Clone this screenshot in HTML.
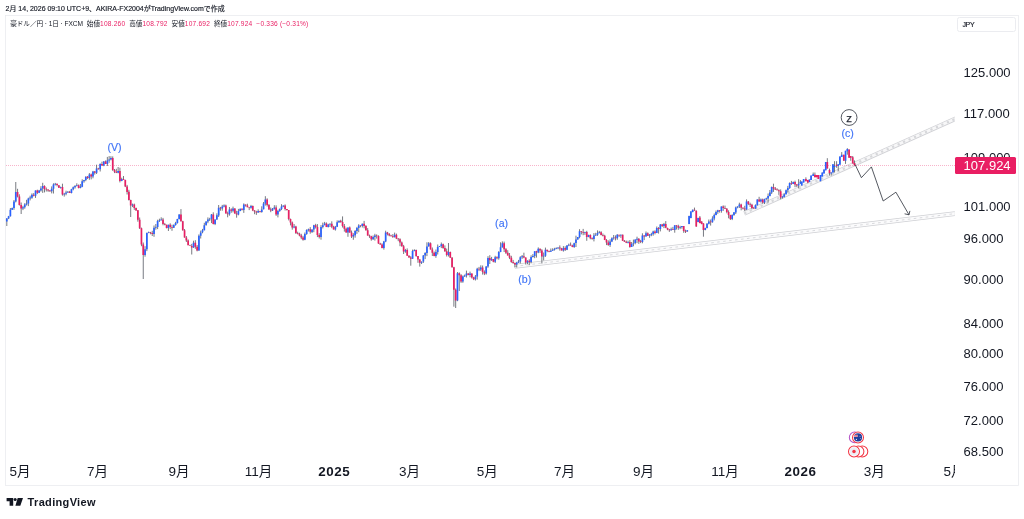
<!DOCTYPE html>
<html lang="ja">
<head>
<meta charset="utf-8">
<title>豪ドル／円 チャート</title>
<style>
html,body{margin:0;padding:0;background:#fff;}
body{width:1024px;height:519px;position:relative;overflow:hidden;font-family:"Liberation Sans","Noto Sans CJK JP",sans-serif;color:#131722;}
#chart{position:absolute;left:0;top:0;width:1024px;height:519px;}
.t{position:absolute;white-space:nowrap;line-height:1;}
#hdr{left:5.6px;top:5.6px;font-size:6.97px;color:#131722;-webkit-text-stroke:0.15px #131722;}
#lg{left:10.3px;top:21.4px;font-size:6.6px;color:#131722;letter-spacing:-0.06px;}
#lg b{font-weight:normal;color:#e91e63;letter-spacing:0.2px;}
#lg span{margin-left:3.95px;letter-spacing:0;}
.pl{left:963.6px;font-size:13px;color:#131722;}
.tl{font-size:13.5px;color:#131722;top:464.8px;transform:translateX(-50%);}
.tl.b{font-weight:bold;letter-spacing:0.55px;font-size:13.4px;}
#jpy{left:957px;top:17.3px;width:59.2px;height:14.6px;border:0.8px solid #ebecf0;border-radius:2.5px;font-size:7px;letter-spacing:-0.3px;box-sizing:border-box;-webkit-text-stroke:0.15px #131722;}
#jpy span{position:absolute;left:4.4px;top:3.2px;}
#cur{left:955px;top:156.9px;width:60.9px;height:17px;background:#e91e63;color:#fff;font-size:13px;border-radius:1.5px;}
#cur span{position:absolute;left:8.6px;top:2.1px;}
#tv{left:27.6px;top:496.6px;font-size:11px;font-weight:bold;color:#131722;letter-spacing:0.33px;}
.wl{font-size:10.6px;color:#4074f7;-webkit-text-stroke:0.15px #4074f7;transform:translate(-50%,-50%);}
</style>
</head>
<body>
<svg id="chart" viewBox="0 0 1024 519" width="1024" height="519">
<rect x="5.5" y="15.4" width="1012.9" height="470" fill="none" stroke="#eaebef" stroke-width="0.8"/>
<!-- trend lines -->
<defs><clipPath id="pane"><rect x="5.5" y="15.5" width="949.3" height="446"/></clipPath></defs>
<g fill="none" stroke-linecap="butt" clip-path="url(#pane)">
<line x1="514.6" y1="266.4" x2="965" y2="212.45" stroke="#cfd0d4" stroke-width="4.8"/>
<line x1="514.6" y1="266.4" x2="965" y2="212.45" stroke="#fbfbfc" stroke-width="3.4"/>
<line x1="514.6" y1="266.4" x2="965" y2="212.45" stroke="#cfd0d4" stroke-width="0.8" stroke-dasharray="2.6 3.4"/>
<line x1="744.3" y1="213.4" x2="965" y2="114.5" stroke="#d0d1d5" stroke-width="4.6"/>
<line x1="744.3" y1="213.4" x2="965" y2="114.5" stroke="#f7f7f8" stroke-width="3"/>
<line x1="744.3" y1="213.4" x2="965" y2="114.5" stroke="#d6d7da" stroke-width="2.2" stroke-dasharray="2.2 3.8"/>
</g>
<!-- price line -->
<line x1="6" y1="165.3" x2="956" y2="165.3" stroke="#e91e63" stroke-width="0.6" stroke-dasharray="1 1" opacity="0.7"/>
<!-- candles -->
<path d="M6.80 218.0V226.0M8.60 215.9V219.1M10.39 208.0V216.6M12.19 207.6V210.0M13.98 200.0V209.8M15.78 182.0V202.4M17.57 188.8V197.4M19.37 194.3V205.5M21.16 202.5V214.0M22.96 205.8V210.1M24.76 203.2V208.7M26.55 199.8V205.5M28.35 197.7V206.1M30.14 195.7V200.4M31.94 193.4V198.8M33.73 193.1V196.4M35.53 190.4V197.9M37.32 189.7V194.1M39.12 189.9V193.1M40.91 186.2V191.6M42.71 182.8V192.9M44.51 185.3V192.4M46.30 187.5V191.5M48.10 189.4V191.8M49.89 190.0V191.8M51.69 186.4V193.4M53.48 183.3V193.5M55.28 182.9V185.5M57.07 183.7V186.4M58.87 185.2V188.0M60.66 186.6V188.6M62.46 183.7V195.6M64.26 192.9V196.6M66.05 190.7V195.3M67.85 191.1V192.9M69.64 190.9V193.0M71.44 188.8V193.4M73.23 186.5V190.3M75.03 185.1V188.6M76.82 183.3V186.4M78.62 184.5V188.4M80.42 184.0V188.3M82.21 179.3V187.2M84.01 179.9V182.7M85.80 176.3V181.2M87.60 176.0V179.0M89.39 173.1V179.8M91.19 173.6V179.4M92.98 170.9V178.3M94.78 171.0V174.6M96.58 164.7V174.0M98.37 167.8V169.6M100.17 163.4V171.5M101.96 161.7V165.8M103.76 161.1V166.2M105.55 160.5V164.0M107.35 156.9V166.0M109.14 156.1V162.8M110.94 156.2V160.4M112.73 156.4V170.9M114.53 169.0V173.1M116.33 168.8V173.1M118.12 167.0V173.3M119.92 167.7V182.4M121.71 177.7V181.2M123.51 176.0V180.0M125.30 179.7V187.1M127.10 184.9V194.5M128.89 189.8V200.5M130.69 199.7V217.0M132.49 203.6V207.1M134.28 203.6V209.9M136.08 207.6V210.7M137.87 210.0V221.7M139.67 217.5V229.0M141.46 227.6V246.2M143.26 242.5V279.0M145.05 246.2V256.7M146.85 232.5V251.1M148.64 231.6V233.2M150.44 231.9V234.3M152.24 230.8V236.0M154.03 225.5V236.8M155.83 224.0V229.7M157.62 219.7V229.1M159.42 218.7V222.0M161.21 217.3V220.5M163.01 217.9V225.3M164.80 222.9V225.3M166.60 224.7V228.4M168.40 224.7V231.0M170.19 223.3V229.1M171.99 224.7V230.8M173.78 224.4V228.0M175.58 221.8V225.7M177.37 218.8V223.6M179.17 214.2V219.5M180.96 209.1V221.6M182.76 220.8V230.7M184.55 229.0V237.7M186.35 236.0V242.0M188.15 239.4V245.2M189.94 244.8V245.9M191.74 243.9V254.5M193.53 240.7V247.9M195.33 240.2V248.8M197.12 245.0V251.3M198.92 234.4V250.8M200.71 230.6V238.5M202.51 228.9V233.3M204.31 222.8V230.4M206.10 221.3V225.8M207.90 217.4V223.2M209.69 217.8V221.0M211.49 214.0V223.1M213.28 212.3V224.4M215.08 219.4V225.1M216.87 213.3V219.9M218.67 205.0V217.0M220.46 206.9V210.7M222.26 204.9V210.7M224.06 204.4V207.3M225.85 204.6V213.5M227.65 211.6V217.3M229.44 207.0V215.7M231.24 208.3V212.8M233.03 206.6V212.4M234.83 208.2V213.8M236.62 210.8V217.7M238.42 208.9V215.3M240.22 208.6V211.2M242.01 208.4V210.4M243.81 203.4V212.9M245.60 204.5V206.6M247.40 203.7V207.2M249.19 206.9V210.1M250.99 204.9V208.7M252.78 205.5V211.1M254.58 210.1V214.2M256.37 210.8V214.9M258.17 209.3V212.9M259.97 210.9V212.5M261.76 206.3V212.7M263.56 202.0V209.4M265.35 196.2V205.6M267.15 198.3V206.5M268.94 204.0V209.8M270.74 207.5V212.2M272.53 208.0V211.0M274.33 205.2V209.6M276.12 205.3V215.9M277.92 209.8V217.4M279.72 208.4V211.8M281.51 204.2V210.1M283.31 205.5V207.2M285.10 204.4V210.5M286.90 209.0V210.5M288.69 210.0V220.4M290.49 218.6V225.4M292.28 221.5V229.7M294.08 224.0V228.3M295.88 225.8V234.0M297.67 231.7V234.4M299.47 232.7V236.3M301.26 233.8V239.2M303.06 235.8V240.7M304.85 232.5V240.2M306.65 229.3V234.8M308.44 228.6V231.5M310.24 227.1V233.7M312.04 229.4V233.0M313.83 224.8V232.2M315.63 223.8V228.5M317.42 224.1V237.1M319.22 233.2V238.5M321.01 225.1V239.7M322.81 222.6V228.4M324.60 221.9V225.2M326.40 222.4V227.1M328.19 223.8V227.5M329.99 223.4V227.0M331.79 221.3V228.2M333.58 225.8V229.5M335.38 225.9V230.6M337.17 220.4V227.1M338.97 220.6V223.0M340.76 219.8V222.8M342.56 216.4V227.5M344.35 224.0V231.6M346.15 227.6V232.7M347.95 227.5V236.8M349.74 226.5V232.8M351.54 230.5V238.0M353.33 233.2V239.8M355.13 230.1V237.7M356.92 226.9V233.9M358.72 224.2V232.2M360.51 225.3V227.3M362.31 223.6V227.5M364.10 220.9V228.3M365.90 225.1V230.6M367.70 228.1V235.7M369.49 234.6V237.9M371.29 235.8V240.7M373.08 235.5V239.9M374.88 233.8V240.6M376.67 234.4V238.6M378.47 235.3V243.9M380.26 242.8V244.7M382.06 243.3V248.3M383.86 240.9V249.6M385.65 230.7V242.2M387.45 231.9V235.4M389.24 233.0V236.3M391.04 234.8V236.3M392.83 234.1V237.9M394.63 232.6V237.6M396.42 233.6V239.1M398.22 238.2V241.2M400.01 238.3V246.2M401.81 241.5V246.7M403.61 244.9V254.0M405.40 248.9V252.8M407.20 248.4V255.8M408.99 255.3V257.7M410.79 256.1V265.7M412.58 249.6V258.9M414.38 249.3V251.3M416.17 249.6V256.8M417.97 256.0V262.8M419.77 259.1V266.6M421.56 261.4V264.0M423.36 255.0V262.9M425.15 252.2V259.1M426.95 242.3V256.1M428.74 242.0V246.5M430.54 242.4V249.5M432.33 247.5V256.0M434.13 251.5V256.3M435.92 249.5V257.8M437.72 244.5V254.5M439.52 246.0V247.0M441.31 242.5V248.1M443.11 243.6V248.8M444.90 245.4V251.9M446.70 248.6V256.5M448.49 243.0V256.5M450.29 251.6V257.9M452.08 257.0V267.6M453.88 266.8V306.7M455.68 288.5V308.0M457.47 272.0V301.2M459.27 272.4V291.0M461.06 274.1V282.9M462.86 275.5V282.8M464.65 274.6V276.9M466.45 270.6V277.5M468.24 273.1V275.3M470.04 271.6V277.3M471.83 273.4V278.5M473.63 276.8V280.1M475.43 275.0V280.5M477.22 267.8V279.6M479.02 266.9V271.1M480.81 265.3V271.0M482.61 265.5V274.6M484.40 270.4V275.1M486.20 266.1V274.6M487.99 256.2V267.8M489.79 255.2V264.0M491.59 256.9V260.9M493.38 259.0V262.3M495.18 255.8V263.0M496.97 256.3V259.3M498.77 251.1V259.7M500.56 242.3V252.2M502.36 241.4V247.7M504.15 241.6V252.0M505.95 248.1V254.0M507.74 250.2V255.5M509.54 253.0V259.1M511.34 255.8V262.8M513.13 259.9V263.8M514.93 262.6V267.4M516.72 261.8V267.5M518.52 259.9V263.1M520.31 256.2V263.5M522.11 255.0V258.9M523.90 252.7V258.2M525.70 257.4V264.5M527.50 260.3V264.1M529.29 259.3V265.2M531.09 255.3V263.3M532.88 254.1V257.5M534.68 251.3V258.2M536.47 250.8V257.6M538.27 247.4V253.2M540.06 248.5V252.9M541.86 249.2V263.5M543.65 252.5V260.4M545.45 247.6V256.9M547.25 249.8V252.2M549.04 250.6V252.2M550.84 248.5V251.9M552.63 248.3V250.8M554.43 247.8V250.6M556.22 247.4V249.2M558.02 247.4V249.2M559.81 245.4V250.6M561.61 247.9V250.5M563.40 246.1V251.6M565.20 246.3V251.0M567.00 245.1V250.1M568.79 243.6V246.2M570.59 242.5V245.7M572.38 244.7V247.2M574.18 242.7V247.9M575.97 235.7V247.0M577.77 237.0V239.7M579.56 229.2V238.3M581.36 231.2V234.4M583.16 228.9V235.2M584.95 231.7V234.9M586.75 230.8V240.8M588.54 234.7V237.2M590.34 234.3V239.3M592.13 237.4V239.7M593.93 233.1V241.4M595.72 232.8V235.9M597.52 230.4V235.9M599.31 230.9V233.5M601.11 231.2V235.4M602.91 233.5V236.4M604.70 234.8V240.1M606.50 239.1V245.1M608.29 240.4V245.8M610.09 239.3V246.9M611.88 237.3V242.1M613.68 235.0V239.7M615.47 235.4V240.4M617.27 234.1V239.8M619.07 234.8V237.0M620.86 234.5V237.9M622.66 234.5V241.0M624.45 240.0V241.9M626.25 240.6V243.1M628.04 240.7V243.4M629.84 240.1V247.7M631.63 242.0V247.0M633.43 239.6V246.3M635.23 239.4V244.3M637.02 236.7V243.1M638.82 238.1V243.9M640.61 239.9V243.1M642.41 233.3V243.3M644.20 235.2V240.1M646.00 231.5V236.5M647.79 232.4V236.0M649.59 234.0V237.8M651.38 232.8V236.2M653.18 230.7V235.7M654.98 230.3V234.4M656.77 226.5V233.1M658.57 227.1V233.6M660.36 224.0V231.4M662.16 223.9V227.0M663.95 222.9V228.1M665.75 221.1V228.2M667.54 227.7V230.2M669.34 228.9V231.9M671.13 227.6V230.7M672.93 226.9V229.9M674.73 225.2V232.7M676.52 225.2V229.5M678.32 224.7V229.8M680.11 225.8V229.2M681.91 226.1V228.7M683.70 226.1V232.8M685.50 229.7V233.0M687.29 230.0V231.8M689.09 215.7V224.2M690.89 211.2V218.3M692.68 209.5V212.3M694.48 207.6V210.9M696.27 210.4V226.8M698.07 217.7V222.3M699.86 216.0V223.3M701.66 221.2V224.3M703.45 223.2V236.7M705.25 227.7V230.3M707.04 223.0V228.4M708.84 219.5V224.4M710.64 219.5V225.6M712.43 216.3V222.7M714.23 213.5V220.4M716.02 210.5V215.3M717.82 209.8V213.8M719.61 210.0V212.6M721.41 206.4V212.7M723.20 205.4V210.9M725.00 205.6V209.0M726.80 208.0V213.3M728.59 210.3V218.3M730.39 214.8V220.0M732.18 214.3V220.1M733.98 212.3V215.8M735.77 206.6V214.0M737.57 206.3V208.3M739.36 202.7V208.0M741.16 203.7V210.3M742.96 207.4V209.4M744.75 205.8V211.0M746.55 199.4V209.8M748.34 201.1V205.1M750.14 202.7V207.0M751.93 203.8V209.2M753.73 207.2V208.8M755.52 204.4V208.7M757.32 199.2V205.6M759.11 196.8V202.1M760.91 198.5V202.6M762.71 198.6V203.7M764.50 198.7V204.0M766.30 197.7V200.3M768.09 193.5V202.6M769.89 190.0V196.4M771.68 186.5V194.0M773.48 183.7V191.9M775.27 187.0V190.0M777.07 188.3V190.3M778.87 189.3V194.9M780.66 189.4V199.3M782.46 196.2V198.5M784.25 193.4V197.4M786.05 189.5V194.5M787.84 185.9V192.5M789.64 182.4V188.9M791.43 180.9V184.9M793.23 181.5V184.1M795.02 180.7V187.2M796.82 184.0V187.0M798.62 179.2V188.4M800.41 180.1V184.0M801.73 181.6V185.5M803.64 179.0V182.5M805.90 177.3V181.2M807.81 179.9V183.4M809.37 179.5V182.1M811.10 175.6V179.9M813.18 172.5V176.0M814.92 172.5V177.3M816.65 175.1V177.3M818.39 175.1V179.0M820.47 175.1V181.2M822.29 172.5V176.4M824.02 169.5V173.4M825.76 162.1V170.4M827.32 158.2V168.6M829.49 168.6V175.6M831.22 172.5V175.6M832.96 164.3V172.5M834.52 161.2V172.5M836.60 161.2V167.8M838.25 164.3V170.8M839.90 156.5V164.7M841.72 152.1V156.9M843.80 154.7V160.8M845.53 150.8V163.9M847.35 148.2V154.7M849.09 149.5V157.8M850.74 156.0V160.8M852.73 156.0V163.4M854.47 160.4V165.6" stroke="#4a4d57" stroke-width="0.75" fill="none"/>
<path d="M5.95 218.4h1.7v3.0h-1.7zM7.75 216.2h1.7v2.2h-1.7zM9.54 209.8h1.7v6.4h-1.7zM11.34 208.1h1.7v1.7h-1.7zM13.13 201.5h1.7v6.6h-1.7zM14.93 192.0h1.7v9.5h-1.7zM22.11 207.3h1.7v1.3h-1.7zM23.91 204.6h1.7v2.7h-1.7zM25.70 203.5h1.7v1.1h-1.7zM27.50 198.4h1.7v5.1h-1.7zM29.29 197.6h1.7v0.8h-1.7zM31.09 194.8h1.7v2.9h-1.7zM34.68 190.6h1.7v5.1h-1.7zM38.27 190.6h1.7v2.2h-1.7zM40.06 188.6h1.7v1.9h-1.7zM41.86 186.0h1.7v2.6h-1.7zM50.84 188.7h1.7v2.6h-1.7zM52.63 184.6h1.7v4.1h-1.7zM54.43 183.8h1.7v0.8h-1.7zM59.81 187.0h1.7v0.8h-1.7zM63.41 193.8h1.7v0.8h-1.7zM65.20 192.6h1.7v1.2h-1.7zM67.00 191.8h1.7v0.8h-1.7zM70.59 189.3h1.7v3.7h-1.7zM72.38 187.3h1.7v2.0h-1.7zM74.18 186.0h1.7v1.3h-1.7zM75.97 185.2h1.7v0.8h-1.7zM79.57 186.6h1.7v1.4h-1.7zM81.36 181.3h1.7v5.4h-1.7zM83.16 179.9h1.7v1.3h-1.7zM84.95 176.7h1.7v3.2h-1.7zM88.54 174.6h1.7v3.4h-1.7zM92.13 171.5h1.7v4.9h-1.7zM95.73 168.5h1.7v4.2h-1.7zM99.32 164.1h1.7v5.1h-1.7zM102.91 161.6h1.7v3.9h-1.7zM106.50 160.4h1.7v3.5h-1.7zM108.29 159.4h1.7v1.0h-1.7zM110.09 158.0h1.7v1.4h-1.7zM117.27 170.9h1.7v1.8h-1.7zM120.86 178.9h1.7v2.1h-1.7zM131.64 204.5h1.7v0.9h-1.7zM144.20 249.3h1.7v5.7h-1.7zM146.00 233.0h1.7v16.3h-1.7zM147.79 232.2h1.7v0.8h-1.7zM153.18 227.7h1.7v6.3h-1.7zM154.98 226.9h1.7v0.8h-1.7zM156.77 221.0h1.7v5.9h-1.7zM158.57 220.2h1.7v0.8h-1.7zM160.36 219.4h1.7v0.8h-1.7zM167.55 224.8h1.7v3.1h-1.7zM172.93 224.9h1.7v2.8h-1.7zM174.73 222.9h1.7v2.0h-1.7zM176.52 219.0h1.7v3.9h-1.7zM178.32 214.6h1.7v4.4h-1.7zM192.68 242.7h1.7v4.9h-1.7zM198.07 235.8h1.7v14.7h-1.7zM199.86 232.4h1.7v3.4h-1.7zM201.66 230.2h1.7v2.1h-1.7zM203.46 225.2h1.7v5.1h-1.7zM205.25 221.6h1.7v3.5h-1.7zM207.05 219.5h1.7v2.1h-1.7zM208.84 218.8h1.7v0.7h-1.7zM210.64 214.4h1.7v4.4h-1.7zM214.23 219.6h1.7v4.4h-1.7zM216.02 215.3h1.7v4.3h-1.7zM217.82 207.7h1.7v7.7h-1.7zM221.41 206.4h1.7v2.1h-1.7zM223.21 205.6h1.7v0.8h-1.7zM228.59 209.4h1.7v4.8h-1.7zM232.18 208.6h1.7v2.2h-1.7zM237.57 211.1h1.7v3.3h-1.7zM239.37 208.7h1.7v2.4h-1.7zM242.96 204.6h1.7v5.3h-1.7zM250.14 206.1h1.7v1.7h-1.7zM257.32 211.1h1.7v1.4h-1.7zM260.91 209.4h1.7v2.5h-1.7zM262.71 203.6h1.7v5.7h-1.7zM264.50 199.6h1.7v4.0h-1.7zM271.68 208.8h1.7v1.6h-1.7zM273.48 207.6h1.7v1.2h-1.7zM277.07 211.1h1.7v3.3h-1.7zM278.87 208.9h1.7v2.2h-1.7zM280.66 206.6h1.7v2.3h-1.7zM282.46 205.5h1.7v1.1h-1.7zM293.23 226.6h1.7v0.8h-1.7zM304.00 234.0h1.7v5.8h-1.7zM305.80 230.0h1.7v4.0h-1.7zM307.59 229.2h1.7v0.8h-1.7zM311.19 229.4h1.7v2.5h-1.7zM312.98 225.2h1.7v4.2h-1.7zM320.16 227.1h1.7v9.8h-1.7zM321.96 225.2h1.7v1.9h-1.7zM323.75 223.6h1.7v1.6h-1.7zM327.34 224.6h1.7v2.3h-1.7zM329.14 223.8h1.7v0.8h-1.7zM334.53 226.8h1.7v2.7h-1.7zM336.32 222.2h1.7v4.6h-1.7zM338.12 220.7h1.7v1.5h-1.7zM347.10 227.6h1.7v4.9h-1.7zM352.48 235.1h1.7v1.3h-1.7zM354.28 231.0h1.7v4.2h-1.7zM356.07 227.9h1.7v3.1h-1.7zM357.87 225.4h1.7v2.5h-1.7zM361.46 223.7h1.7v2.4h-1.7zM372.23 236.9h1.7v2.4h-1.7zM374.03 235.4h1.7v1.5h-1.7zM383.00 241.6h1.7v6.4h-1.7zM384.80 232.5h1.7v9.1h-1.7zM393.78 234.8h1.7v2.1h-1.7zM404.55 250.1h1.7v1.3h-1.7zM411.73 250.9h1.7v7.9h-1.7zM413.53 250.0h1.7v0.9h-1.7zM420.71 261.7h1.7v1.0h-1.7zM422.51 255.4h1.7v6.2h-1.7zM424.30 252.9h1.7v2.5h-1.7zM426.10 246.5h1.7v6.4h-1.7zM427.89 243.2h1.7v3.3h-1.7zM435.07 252.1h1.7v3.8h-1.7zM436.87 246.9h1.7v5.2h-1.7zM438.67 246.1h1.7v0.8h-1.7zM440.46 244.2h1.7v1.9h-1.7zM447.64 252.0h1.7v2.9h-1.7zM456.62 273.2h1.7v27.3h-1.7zM462.01 276.6h1.7v4.9h-1.7zM463.80 275.5h1.7v1.0h-1.7zM465.60 273.5h1.7v2.0h-1.7zM469.19 273.5h1.7v1.4h-1.7zM474.58 276.6h1.7v2.7h-1.7zM476.37 268.8h1.7v7.8h-1.7zM479.96 267.6h1.7v2.0h-1.7zM485.35 266.6h1.7v6.9h-1.7zM487.14 257.9h1.7v8.7h-1.7zM490.74 259.0h1.7v1.3h-1.7zM494.33 257.2h1.7v4.6h-1.7zM497.92 252.1h1.7v6.1h-1.7zM499.71 247.3h1.7v4.8h-1.7zM501.51 243.2h1.7v4.1h-1.7zM515.87 262.5h1.7v2.0h-1.7zM517.67 261.4h1.7v1.1h-1.7zM519.46 257.3h1.7v4.1h-1.7zM521.26 256.3h1.7v1.0h-1.7zM526.64 260.8h1.7v1.7h-1.7zM530.24 256.9h1.7v5.1h-1.7zM532.03 256.1h1.7v0.8h-1.7zM533.83 251.3h1.7v4.8h-1.7zM537.42 248.8h1.7v3.7h-1.7zM542.80 255.7h1.7v0.9h-1.7zM544.60 249.8h1.7v5.9h-1.7zM549.99 250.8h1.7v1.0h-1.7zM551.78 249.9h1.7v0.9h-1.7zM553.58 249.1h1.7v0.8h-1.7zM555.37 248.3h1.7v0.8h-1.7zM557.17 247.5h1.7v0.8h-1.7zM562.55 247.9h1.7v2.5h-1.7zM566.15 245.5h1.7v4.3h-1.7zM567.94 244.7h1.7v0.8h-1.7zM573.33 243.2h1.7v3.7h-1.7zM575.12 239.5h1.7v3.6h-1.7zM576.92 237.1h1.7v2.5h-1.7zM578.71 231.3h1.7v5.7h-1.7zM584.10 231.9h1.7v0.8h-1.7zM587.69 234.9h1.7v2.1h-1.7zM593.08 235.5h1.7v3.6h-1.7zM594.87 234.8h1.7v0.7h-1.7zM596.67 232.9h1.7v1.9h-1.7zM598.46 232.2h1.7v0.7h-1.7zM609.24 241.4h1.7v3.5h-1.7zM611.03 238.2h1.7v3.2h-1.7zM612.83 237.4h1.7v0.8h-1.7zM616.42 234.8h1.7v3.4h-1.7zM620.01 234.8h1.7v0.8h-1.7zM627.19 242.0h1.7v0.8h-1.7zM630.78 244.0h1.7v2.9h-1.7zM632.58 243.2h1.7v0.8h-1.7zM634.38 239.6h1.7v3.5h-1.7zM636.17 238.8h1.7v0.9h-1.7zM641.56 235.5h1.7v6.6h-1.7zM645.15 233.2h1.7v3.3h-1.7zM648.74 234.9h1.7v0.8h-1.7zM650.53 234.1h1.7v0.8h-1.7zM652.33 231.6h1.7v2.5h-1.7zM655.92 227.9h1.7v5.2h-1.7zM659.51 224.4h1.7v4.7h-1.7zM663.10 224.1h1.7v1.9h-1.7zM670.28 229.3h1.7v1.0h-1.7zM673.88 225.3h1.7v4.6h-1.7zM679.26 226.9h1.7v0.8h-1.7zM681.06 226.1h1.7v0.8h-1.7zM686.44 230.3h1.7v1.2h-1.7zM688.24 216.0h1.7v7.9h-1.7zM690.04 211.5h1.7v6.5h-1.7zM691.83 209.8h1.7v2.2h-1.7zM697.22 218.0h1.7v4.0h-1.7zM704.40 228.0h1.7v2.0h-1.7zM706.19 223.7h1.7v4.3h-1.7zM707.99 221.5h1.7v2.2h-1.7zM711.58 218.5h1.7v3.8h-1.7zM713.38 215.0h1.7v3.5h-1.7zM715.17 211.9h1.7v3.1h-1.7zM716.97 210.2h1.7v1.7h-1.7zM720.56 206.4h1.7v4.5h-1.7zM731.33 215.0h1.7v4.1h-1.7zM733.13 212.3h1.7v2.7h-1.7zM734.92 207.4h1.7v5.0h-1.7zM736.72 206.6h1.7v0.8h-1.7zM738.51 204.5h1.7v2.1h-1.7zM745.70 201.5h1.7v7.9h-1.7zM754.67 204.9h1.7v3.7h-1.7zM756.47 199.5h1.7v5.4h-1.7zM760.06 199.6h1.7v1.9h-1.7zM763.65 199.1h1.7v3.4h-1.7zM765.45 198.3h1.7v0.8h-1.7zM767.24 196.0h1.7v2.4h-1.7zM769.04 192.5h1.7v3.5h-1.7zM770.83 186.9h1.7v5.6h-1.7zM781.61 196.6h1.7v0.8h-1.7zM783.40 194.2h1.7v2.5h-1.7zM785.20 190.2h1.7v4.0h-1.7zM786.99 188.1h1.7v2.1h-1.7zM788.79 183.1h1.7v4.9h-1.7zM792.38 182.0h1.7v1.9h-1.7zM797.77 183.7h1.7v1.7h-1.7zM799.56 181.8h1.7v1.8h-1.7zM800.88 181.6h1.7v3.9h-1.7zM802.79 179.0h1.7v3.5h-1.7zM808.52 179.5h1.7v2.6h-1.7zM810.25 175.6h1.7v4.3h-1.7zM812.33 174.3h1.7v1.7h-1.7zM819.62 175.1h1.7v6.1h-1.7zM821.44 172.5h1.7v3.9h-1.7zM823.17 169.5h1.7v3.9h-1.7zM824.91 162.1h1.7v8.2h-1.7zM830.37 172.5h1.7v0.9h-1.7zM832.11 164.3h1.7v8.2h-1.7zM833.67 166.0h1.7v0.9h-1.7zM837.40 164.3h1.7v1.7h-1.7zM839.05 156.5h1.7v8.2h-1.7zM840.87 154.7h1.7v2.2h-1.7zM844.68 150.8h1.7v10.0h-1.7zM846.50 149.1h1.7v2.2h-1.7z" fill="#2962ff"/>
<path d="M16.72 192.0h1.7v4.5h-1.7zM18.52 196.5h1.7v8.5h-1.7zM20.31 204.9h1.7v3.7h-1.7zM32.88 194.8h1.7v0.9h-1.7zM36.47 190.6h1.7v2.2h-1.7zM43.66 186.0h1.7v2.9h-1.7zM45.45 188.9h1.7v0.7h-1.7zM47.25 189.6h1.7v0.8h-1.7zM49.04 190.4h1.7v0.8h-1.7zM56.22 183.8h1.7v1.3h-1.7zM58.02 185.2h1.7v2.6h-1.7zM61.61 187.0h1.7v7.6h-1.7zM68.79 191.8h1.7v1.2h-1.7zM77.77 185.2h1.7v2.8h-1.7zM86.75 176.7h1.7v1.3h-1.7zM90.34 174.6h1.7v1.8h-1.7zM93.93 171.5h1.7v1.2h-1.7zM97.52 168.5h1.7v0.7h-1.7zM101.11 164.1h1.7v1.4h-1.7zM104.70 161.6h1.7v2.3h-1.7zM111.88 158.0h1.7v11.9h-1.7zM113.68 169.9h1.7v1.9h-1.7zM115.48 171.8h1.7v0.9h-1.7zM119.07 170.9h1.7v10.1h-1.7zM122.66 178.9h1.7v1.1h-1.7zM124.45 180.0h1.7v6.6h-1.7zM126.25 186.6h1.7v5.3h-1.7zM128.04 191.8h1.7v8.2h-1.7zM129.84 200.1h1.7v5.3h-1.7zM133.43 204.5h1.7v3.5h-1.7zM135.23 208.1h1.7v2.3h-1.7zM137.02 210.3h1.7v9.4h-1.7zM138.82 219.7h1.7v8.5h-1.7zM140.61 228.2h1.7v16.2h-1.7zM142.41 244.4h1.7v10.6h-1.7zM149.59 232.2h1.7v0.7h-1.7zM151.39 232.9h1.7v1.1h-1.7zM162.16 219.4h1.7v4.5h-1.7zM163.95 223.9h1.7v0.8h-1.7zM165.75 224.7h1.7v3.2h-1.7zM169.34 224.8h1.7v2.2h-1.7zM171.14 227.0h1.7v0.7h-1.7zM180.11 214.6h1.7v6.6h-1.7zM181.91 221.2h1.7v9.1h-1.7zM183.70 230.3h1.7v7.1h-1.7zM185.50 237.5h1.7v3.0h-1.7zM187.30 240.5h1.7v4.8h-1.7zM189.09 245.2h1.7v0.6h-1.7zM190.89 245.9h1.7v1.7h-1.7zM194.48 242.7h1.7v4.1h-1.7zM196.27 246.8h1.7v3.7h-1.7zM212.43 214.4h1.7v9.6h-1.7zM219.61 207.7h1.7v0.8h-1.7zM225.00 205.6h1.7v7.8h-1.7zM226.80 213.4h1.7v0.8h-1.7zM230.39 209.4h1.7v1.4h-1.7zM233.98 208.6h1.7v5.0h-1.7zM235.77 213.6h1.7v0.8h-1.7zM241.16 208.7h1.7v1.1h-1.7zM244.75 204.6h1.7v0.8h-1.7zM246.55 205.4h1.7v1.8h-1.7zM248.34 207.2h1.7v0.6h-1.7zM251.93 206.1h1.7v4.3h-1.7zM253.73 210.4h1.7v1.2h-1.7zM255.52 211.7h1.7v0.8h-1.7zM259.12 211.1h1.7v0.7h-1.7zM266.30 199.6h1.7v5.3h-1.7zM268.09 204.9h1.7v4.6h-1.7zM269.89 209.5h1.7v0.9h-1.7zM275.27 207.6h1.7v6.8h-1.7zM284.25 205.5h1.7v3.6h-1.7zM286.05 209.1h1.7v0.9h-1.7zM287.84 210.0h1.7v9.0h-1.7zM289.64 219.0h1.7v3.4h-1.7zM291.43 222.4h1.7v5.0h-1.7zM295.03 226.6h1.7v6.3h-1.7zM296.82 232.9h1.7v0.8h-1.7zM298.62 233.7h1.7v1.8h-1.7zM300.41 235.6h1.7v2.0h-1.7zM302.21 237.6h1.7v2.2h-1.7zM309.39 229.2h1.7v2.6h-1.7zM314.78 225.2h1.7v1.9h-1.7zM316.57 227.1h1.7v8.0h-1.7zM318.37 235.1h1.7v1.8h-1.7zM325.55 223.6h1.7v3.3h-1.7zM330.94 223.8h1.7v2.9h-1.7zM332.73 226.7h1.7v2.8h-1.7zM339.91 220.7h1.7v1.3h-1.7zM341.71 222.0h1.7v4.1h-1.7zM343.50 226.1h1.7v2.7h-1.7zM345.30 228.8h1.7v3.7h-1.7zM348.89 227.6h1.7v4.8h-1.7zM350.69 232.4h1.7v4.0h-1.7zM359.66 225.4h1.7v0.7h-1.7zM363.25 223.7h1.7v2.3h-1.7zM365.05 226.0h1.7v4.3h-1.7zM366.85 230.3h1.7v5.1h-1.7zM368.64 235.4h1.7v0.8h-1.7zM370.44 236.2h1.7v3.1h-1.7zM375.82 235.4h1.7v0.7h-1.7zM377.62 236.1h1.7v7.5h-1.7zM379.41 243.6h1.7v0.8h-1.7zM381.21 244.4h1.7v3.6h-1.7zM386.60 232.5h1.7v1.4h-1.7zM388.39 233.9h1.7v1.5h-1.7zM390.19 235.4h1.7v0.8h-1.7zM391.98 236.2h1.7v0.8h-1.7zM395.57 234.8h1.7v3.6h-1.7zM397.37 238.4h1.7v0.8h-1.7zM399.16 239.2h1.7v3.3h-1.7zM400.96 242.5h1.7v3.7h-1.7zM402.76 246.2h1.7v5.2h-1.7zM406.35 250.1h1.7v5.6h-1.7zM408.14 255.7h1.7v1.8h-1.7zM409.94 257.5h1.7v1.3h-1.7zM415.32 250.0h1.7v6.0h-1.7zM417.12 256.0h1.7v3.5h-1.7zM418.92 259.6h1.7v3.1h-1.7zM429.69 243.2h1.7v6.3h-1.7zM431.48 249.5h1.7v3.3h-1.7zM433.28 252.8h1.7v3.1h-1.7zM442.26 244.2h1.7v3.9h-1.7zM444.05 248.1h1.7v3.1h-1.7zM445.85 251.2h1.7v3.7h-1.7zM449.44 252.0h1.7v5.7h-1.7zM451.23 257.7h1.7v9.6h-1.7zM453.03 267.3h1.7v22.5h-1.7zM454.82 289.8h1.7v10.7h-1.7zM458.42 273.2h1.7v2.0h-1.7zM460.21 275.2h1.7v6.3h-1.7zM467.39 273.5h1.7v1.4h-1.7zM470.98 273.5h1.7v3.9h-1.7zM472.78 277.4h1.7v1.9h-1.7zM478.17 268.8h1.7v0.8h-1.7zM481.76 267.6h1.7v4.5h-1.7zM483.55 272.1h1.7v1.4h-1.7zM488.94 257.9h1.7v2.4h-1.7zM492.53 259.0h1.7v2.8h-1.7zM496.12 257.2h1.7v1.0h-1.7zM503.30 243.2h1.7v6.1h-1.7zM505.10 249.3h1.7v3.4h-1.7zM506.89 252.7h1.7v2.7h-1.7zM508.69 255.4h1.7v2.3h-1.7zM510.49 257.7h1.7v4.3h-1.7zM512.28 262.1h1.7v0.8h-1.7zM514.08 262.9h1.7v1.6h-1.7zM523.05 256.3h1.7v1.3h-1.7zM524.85 257.6h1.7v4.9h-1.7zM528.44 260.8h1.7v1.1h-1.7zM535.62 251.3h1.7v1.2h-1.7zM539.21 248.8h1.7v1.8h-1.7zM541.01 250.6h1.7v6.0h-1.7zM546.40 249.8h1.7v1.2h-1.7zM548.19 251.0h1.7v0.8h-1.7zM558.96 247.5h1.7v1.0h-1.7zM560.76 248.5h1.7v1.9h-1.7zM564.35 247.9h1.7v1.9h-1.7zM569.74 244.7h1.7v0.9h-1.7zM571.53 245.5h1.7v1.4h-1.7zM580.51 231.3h1.7v0.6h-1.7zM582.31 231.9h1.7v0.8h-1.7zM585.90 231.9h1.7v5.1h-1.7zM589.49 234.9h1.7v3.4h-1.7zM591.28 238.3h1.7v0.8h-1.7zM600.26 232.2h1.7v2.7h-1.7zM602.06 234.9h1.7v0.8h-1.7zM603.85 235.7h1.7v4.2h-1.7zM605.65 240.0h1.7v2.6h-1.7zM607.44 242.5h1.7v2.4h-1.7zM614.62 237.4h1.7v0.8h-1.7zM618.22 234.8h1.7v0.8h-1.7zM621.81 234.8h1.7v5.9h-1.7zM623.60 240.7h1.7v1.0h-1.7zM625.40 241.8h1.7v1.0h-1.7zM628.99 242.0h1.7v4.9h-1.7zM637.97 238.8h1.7v2.6h-1.7zM639.76 241.3h1.7v0.8h-1.7zM643.35 235.5h1.7v1.0h-1.7zM646.94 233.2h1.7v2.5h-1.7zM654.13 231.6h1.7v1.4h-1.7zM657.72 227.9h1.7v1.2h-1.7zM661.31 224.4h1.7v1.6h-1.7zM664.90 224.1h1.7v3.7h-1.7zM666.69 227.9h1.7v1.5h-1.7zM668.49 229.4h1.7v0.9h-1.7zM672.08 229.3h1.7v0.6h-1.7zM675.67 225.3h1.7v0.8h-1.7zM677.47 226.1h1.7v1.6h-1.7zM682.85 226.1h1.7v4.8h-1.7zM684.65 231.0h1.7v0.8h-1.7zM693.63 209.8h1.7v0.8h-1.7zM695.42 210.7h1.7v15.8h-1.7zM699.01 217.5h1.7v5.5h-1.7zM700.81 221.5h1.7v2.5h-1.7zM702.60 223.5h1.7v6.5h-1.7zM709.79 221.5h1.7v0.8h-1.7zM718.76 210.2h1.7v0.8h-1.7zM722.35 206.4h1.7v1.6h-1.7zM724.15 208.0h1.7v0.8h-1.7zM725.95 208.8h1.7v3.3h-1.7zM727.74 212.1h1.7v3.0h-1.7zM729.54 215.0h1.7v4.1h-1.7zM740.31 204.5h1.7v3.3h-1.7zM742.11 207.8h1.7v0.8h-1.7zM743.90 208.6h1.7v0.8h-1.7zM747.49 201.5h1.7v2.4h-1.7zM749.29 203.9h1.7v0.8h-1.7zM751.08 204.7h1.7v3.2h-1.7zM752.88 207.8h1.7v0.8h-1.7zM758.26 199.5h1.7v2.0h-1.7zM761.86 199.6h1.7v2.9h-1.7zM772.63 186.9h1.7v1.7h-1.7zM774.42 188.6h1.7v0.8h-1.7zM776.22 189.4h1.7v0.8h-1.7zM778.01 190.2h1.7v1.0h-1.7zM779.81 191.3h1.7v6.2h-1.7zM790.58 183.1h1.7v0.7h-1.7zM794.17 182.0h1.7v2.6h-1.7zM795.97 184.6h1.7v0.8h-1.7zM805.05 179.0h1.7v2.2h-1.7zM806.96 179.9h1.7v2.6h-1.7zM814.07 174.7h1.7v2.6h-1.7zM815.80 175.1h1.7v2.2h-1.7zM817.54 175.1h1.7v3.9h-1.7zM826.47 162.1h1.7v6.5h-1.7zM828.64 169.9h1.7v3.0h-1.7zM835.75 164.7h1.7v1.3h-1.7zM842.95 154.7h1.7v6.1h-1.7zM848.24 149.5h1.7v8.2h-1.7zM849.89 156.0h1.7v1.7h-1.7zM851.88 157.3h1.7v6.1h-1.7zM853.62 163.0h1.7v2.6h-1.7z" fill="#e91e63"/>

<!-- projection arrow -->
<path d="M855.1 164.5L861.4 177.7L871.4 166.9L883.2 201L895.9 192.2L909 214.8" fill="none" stroke="#2a2e39" stroke-width="0.8" stroke-linejoin="miter"/>
<path d="M904.6 213.8L909 214.8L909.9 210.9" fill="none" stroke="#2a2e39" stroke-width="0.8"/>
<!-- z circle -->
<circle cx="849.1" cy="117.5" r="7.9" fill="#fff" stroke="#2a2e39" stroke-width="0.8"/>
<text x="849.1" y="121.5" font-size="11.5" text-anchor="middle" fill="#2a2e39" stroke="#2a2e39" stroke-width="0.25" font-family="Liberation Sans, sans-serif">z</text>
<!-- event icons -->
<g stroke-width="1.05">
<circle cx="854.7" cy="437.4" r="5.35" fill="#fff" stroke="#b455c8"/>
<circle cx="858" cy="437.4" r="5.5" fill="#fff" stroke="#f23645"/>
<circle cx="858" cy="437.4" r="4.1" fill="#1f3f9e" stroke="none"/>
<path d="M854.5 434.7h3.2v2.3h-3.6z" fill="#e8c3cf" stroke="none"/>
<path d="M854.4 435.85h3.3M856.1 434.7v2.3" stroke="#e0465e" stroke-width="0.6" fill="none"/>
<circle cx="860" cy="436.3" r="0.45" fill="#fff" stroke="none"/>
<circle cx="860.4" cy="438.6" r="0.45" fill="#fff" stroke="none"/>
<circle cx="856.4" cy="439.3" r="0.6" fill="#fff" stroke="none"/>
<circle cx="862.3" cy="451.4" r="5.5" fill="#fff" stroke="#f23645"/>
<circle cx="858.4" cy="451.4" r="5.5" fill="#fff" stroke="#f23645"/>
<circle cx="854" cy="451.4" r="5.5" fill="#fff" stroke="#f23645"/>
<circle cx="854" cy="451.4" r="4.1" fill="#eceef5" stroke="none"/>
<circle cx="854" cy="451.4" r="1.75" fill="#f23645" stroke="none"/>
</g>
<!-- TradingView logo -->
<g fill="#131722">
<path d="M6.6 498h6.6v7.8h-3.6v-4.6h-3z"/>
<circle cx="15.15" cy="499.55" r="1.55"/>
<path d="M17.7 498h5.3l-2.7 7.8h-4.9z"/>
</g>
</svg>
<div class="t" id="hdr">2月 14, 2026 09:10 UTC+9、AKIRA-FX2004がTradingView.comで作成</div>
<div class="t" id="lg">豪ドル／円 · 1日 · FXCM<span>始値<b>108.260</b></span><span>高値<b>108.792</b></span><span>安値<b>107.692</b></span><span>終値<b>107.924</b></span><span><b>−0.336 (−0.31%)</b></span></div>
<div class="t" id="jpy"><span>JPY</span></div>
<div class="t pl" style="top:65.7px">125.000</div>
<div class="t pl" style="top:107.2px">117.000</div>
<div class="t pl" style="top:151.4px">109.000</div>
<div class="t pl" style="top:200.0px">101.000</div>
<div class="t pl" style="top:232.1px">96.000</div>
<div class="t pl" style="top:272.8px">90.000</div>
<div class="t pl" style="top:316.7px">84.000</div>
<div class="t pl" style="top:347.2px">80.000</div>
<div class="t pl" style="top:379.6px">76.000</div>
<div class="t pl" style="top:413.7px">72.000</div>
<div class="t pl" style="top:445.2px">68.500</div>
<div class="t" id="cur"><span>107.924</span></div>
<div class="t tl" style="left:20.1px">5月</div>
<div class="t tl" style="left:97.6px">7月</div>
<div class="t tl" style="left:179.1px">9月</div>
<div class="t tl" style="left:258.6px">11月</div>
<div class="t tl b" style="left:334.3px">2025</div>
<div class="t tl" style="left:409.6px">3月</div>
<div class="t tl" style="left:487.3px">5月</div>
<div class="t tl" style="left:564.6px">7月</div>
<div class="t tl" style="left:643.6px">9月</div>
<div class="t tl" style="left:725.1px">11月</div>
<div class="t tl b" style="left:800.6px">2026</div>
<div class="t tl" style="left:874.3px">3月</div>
<div class="t" style="left:943.4px;top:464.8px;width:12.1px;overflow:hidden;font-size:13.5px;">5月</div>
<div class="t wl" style="left:114.5px;top:147px">(V)</div>
<div class="t wl" style="left:501.6px;top:223.3px">(a)</div>
<div class="t wl" style="left:524.8px;top:279.1px">(b)</div>
<div class="t wl" style="left:847.6px;top:133px">(c)</div>
<div class="t" id="tv">TradingView</div>
</body>
</html>
